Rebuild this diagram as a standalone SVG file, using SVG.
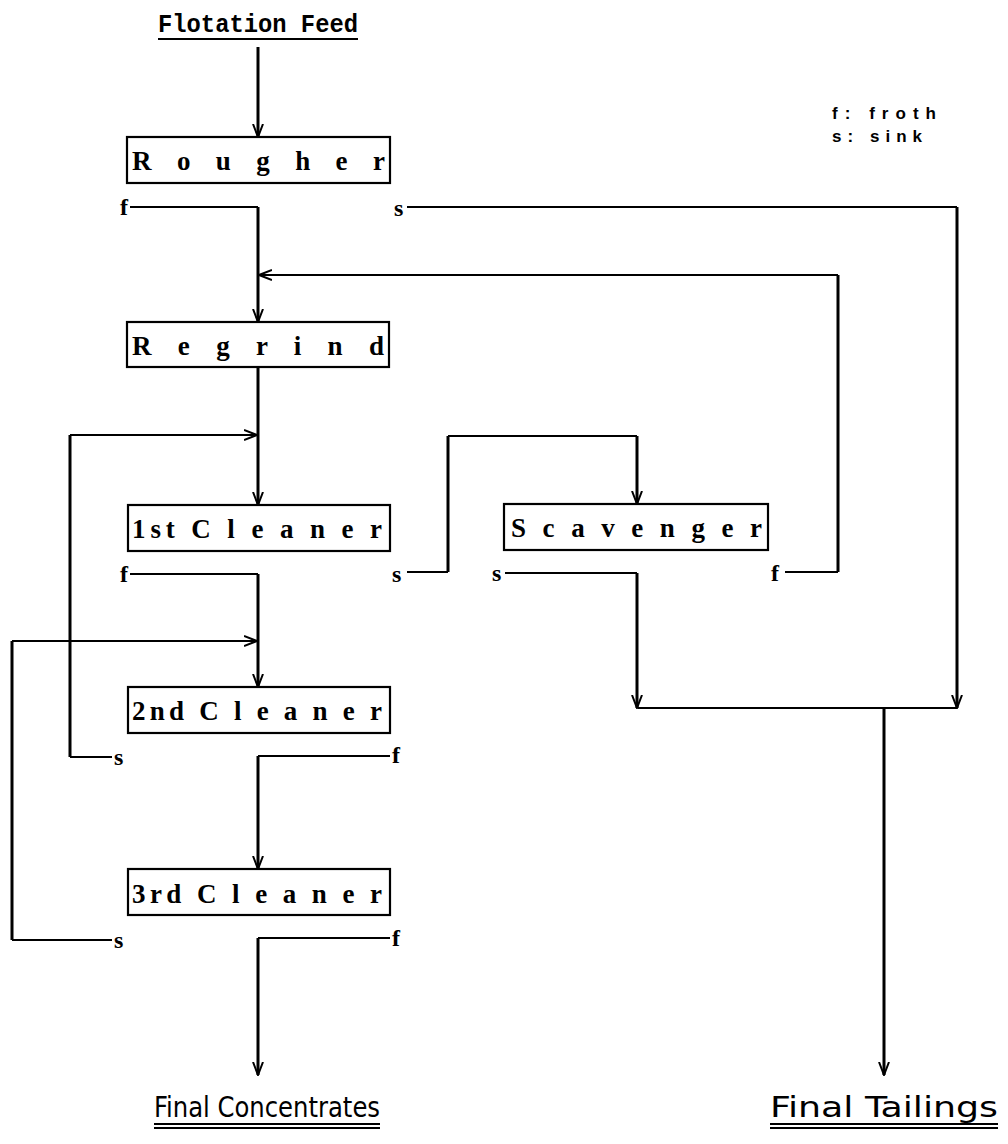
<svg xmlns="http://www.w3.org/2000/svg" width="1008" height="1144" viewBox="0 0 1008 1144">
<style>
.box{fill:#fff;stroke:#000;stroke-width:2.2}
.bt{font-family:"Liberation Serif",serif;font-weight:bold;font-size:27px;fill:#000}
.lb{font-family:"Liberation Serif",serif;font-weight:bold;font-size:24px;fill:#000}
.ttl{font-family:"Liberation Mono",monospace;font-weight:bold;font-size:25px;fill:#000}
.fin{font-family:"Liberation Sans Narrow","DejaVu Sans Condensed","Liberation Sans",sans-serif;font-stretch:condensed;font-size:29px;fill:#000}
.leg{font-family:"Liberation Sans",sans-serif;font-weight:bold;font-size:17px;fill:#000}
.c{fill:none;stroke:#000;stroke-width:2}
.v{fill:none;stroke:#000;stroke-width:3}
.ul{stroke:#000;stroke-width:2}
</style>
<defs>
<marker id="arr" viewBox="0 0 14 12" refX="13" refY="6" markerWidth="14" markerHeight="12" markerUnits="userSpaceOnUse" orient="auto">
<path d="M0,1 L13,6 L0,11" fill="none" stroke="#000" stroke-width="2"/>
</marker>
</defs>

<g id="title-feed">
<text class="ttl" x="158" y="32" textLength="200" lengthAdjust="spacingAndGlyphs">Flotation Feed</text>
<line class="ul" x1="158" y1="39" x2="358" y2="39"/>
</g>

<g id="legend">
<text class="leg" x="832" y="119" textLength="104" lengthAdjust="spacing">f: froth</text>
<text class="leg" x="832" y="142" textLength="90" lengthAdjust="spacing">s: sink</text>
</g>

<g id="connectors">
<path class="v" d="M258,47 V137" marker-end="url(#arr)"/>
<path class="c" d="M130,207 H258"/>
<path class="v" d="M258,207 V322" marker-end="url(#arr)"/>
<path class="c" d="M407,207 H957"/>
<path class="v" d="M957,207 V708" marker-end="url(#arr)"/>
<path class="v" d="M838,275 V572"/>
<path class="c" d="M785,572 H838"/>
<path class="c" d="M838,275 H259" marker-end="url(#arr)"/>
<path class="v" d="M258,367 V505" marker-end="url(#arr)"/>
<path class="c" d="M112,757 H70"/>
<path class="v" d="M70,757 V435"/>
<path class="c" d="M70,435 H257" marker-end="url(#arr)"/>
<path class="c" d="M130,574 H258"/>
<path class="v" d="M258,574 V687" marker-end="url(#arr)"/>
<path class="c" d="M112,940 H12"/>
<path class="v" d="M12,940 V641"/>
<path class="c" d="M12,641 H257" marker-end="url(#arr)"/>
<path class="c" d="M407,572 H448"/>
<path class="v" d="M448,572 V436"/>
<path class="c" d="M448,436 H637"/>
<path class="v" d="M637,436 V504" marker-end="url(#arr)"/>
<path class="c" d="M505,573 H637"/>
<path class="v" d="M637,573 V708" marker-end="url(#arr)"/>
<path class="c" d="M638,708 H957"/>
<path class="v" d="M884,708 V1075" marker-end="url(#arr)"/>
<path class="c" d="M390,756 H258"/>
<path class="v" d="M258,756 V869" marker-end="url(#arr)"/>
<path class="c" d="M390,938 H258"/>
<path class="v" d="M258,938 V1075" marker-end="url(#arr)"/>
</g>

<g id="rougher">
<rect class="box" x="127" y="137" width="263" height="46"/>
<text class="bt" x="132" y="170" textLength="253" lengthAdjust="spacing">R o u g h e r</text>
<text class="lb" x="128" y="215" text-anchor="end">f</text>
<text class="lb" x="394" y="216">s</text>
</g>

<g id="regrind">
<rect class="box" x="127" y="322" width="262" height="45"/>
<text class="bt" x="132" y="355" textLength="252" lengthAdjust="spacing">R e g r i n d</text>
</g>

<g id="cleaner1">
<rect class="box" x="128" y="505" width="262" height="46"/>
<text class="bt" x="132" y="538" textLength="250" lengthAdjust="spacing">1st C l e a n e r</text>
<text class="lb" x="128" y="582" text-anchor="end">f</text>
<text class="lb" x="392" y="582">s</text>
</g>

<g id="scavenger">
<rect class="box" x="504" y="504" width="264" height="46"/>
<text class="bt" x="511" y="537" textLength="251" lengthAdjust="spacing">S c a v e n g e r</text>
<text class="lb" x="492" y="581">s</text>
<text class="lb" x="771" y="581">f</text>
</g>

<g id="cleaner2">
<rect class="box" x="128" y="687" width="262" height="46"/>
<text class="bt" x="132" y="720" textLength="250" lengthAdjust="spacing">2nd C l e a n e r</text>
<text class="lb" x="114" y="765">s</text>
<text class="lb" x="392" y="763">f</text>
</g>

<g id="cleaner3">
<rect class="box" x="128" y="869" width="262" height="46"/>
<text class="bt" x="132" y="903" textLength="250" lengthAdjust="spacing">3rd C l e a n e r</text>
<text class="lb" x="114" y="948">s</text>
<text class="lb" x="392" y="946">f</text>
</g>

<g id="final-concentrates">
<text class="fin" x="154" y="1117" textLength="226" lengthAdjust="spacingAndGlyphs">Final Concentrates</text>
<line class="ul" x1="154" y1="1124" x2="380" y2="1124"/>
<line class="ul" x1="154" y1="1128" x2="380" y2="1128"/>
</g>

<g id="final-tailings">
<text class="fin" x="770" y="1117" textLength="228" lengthAdjust="spacingAndGlyphs">Final Tailings</text>
<line class="ul" x1="770" y1="1124" x2="998" y2="1124"/>
<line class="ul" x1="770" y1="1128" x2="998" y2="1128"/>
</g>
</svg>
